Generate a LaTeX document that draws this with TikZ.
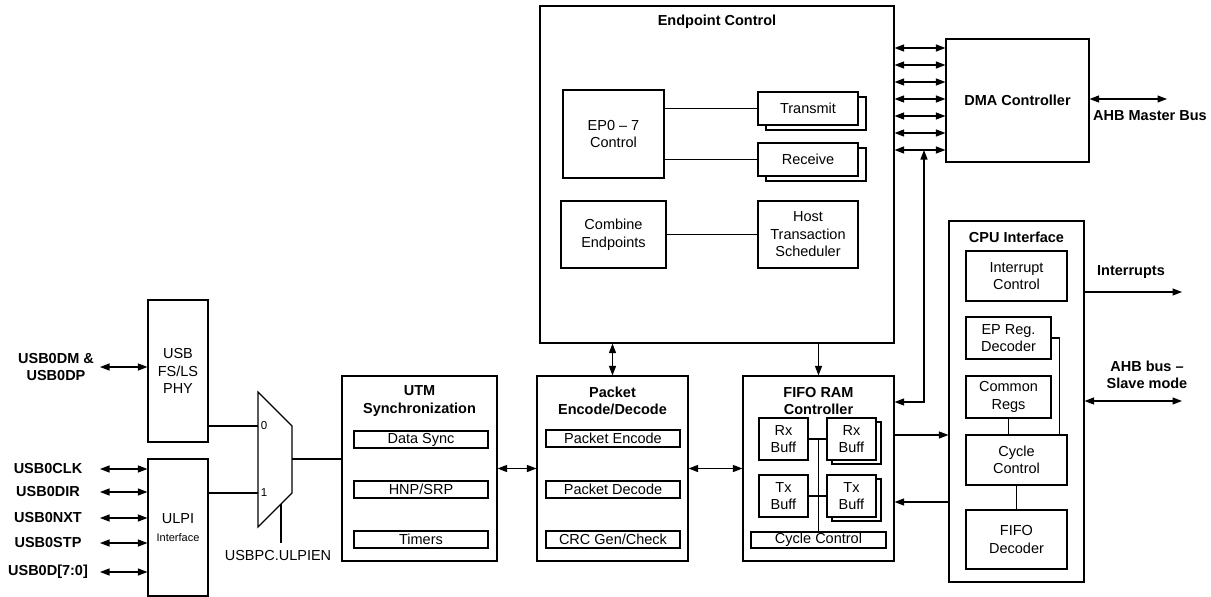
\documentclass[tikz,border=0pt]{standalone}
\usepackage{fontspec}
\setmainfont{Liberation Sans}
\usetikzlibrary{arrows.meta, calc, shadows}

\begin{document}
\begin{tikzpicture}[x=1pt, y=-1pt, line width=1.1pt,
  >={Triangle[length=9.5pt, width=7pt]},
  every node/.style={font=\fontsize{14.5}{17.5}\selectfont},
  blk/.style={draw, inner sep=0pt, align=center},
  stk/.style 2 args={blk, fill=white, copy shadow={shadow xshift=#1, shadow yshift=-#2, draw, fill=white}},
  ttl/.style={font=\fontsize{14.5}{17.5}\selectfont\bfseries, align=center},
  pin/.style={font=\fontsize{14.5}{17}\selectfont\bfseries, align=center},
  tiny/.style={font=\fontsize{11.5}{13}\selectfont}]
  \useasboundingbox (0,0) rectangle (1211,597);

  % Endpoint control
  \node[blk, minimum width=354pt, minimum height=337pt] (epc) at (717,174.5) {};
  \node[ttl] (epct) at (717,22) {Endpoint Control};
  \node[blk, minimum width=101pt, minimum height=88pt] (ep07) at (613.5,134) {EP0 – 7\\Control};
  \node[stk={8pt}{5pt}, minimum width=100pt, minimum height=33pt] (tx) at (808,108.5) {Transmit};
  \node[stk={8pt}{5pt}, minimum width=100pt, minimum height=33pt] (rx) at (808,159.5) {Receive};
  \node[blk, minimum width=105pt, minimum height=67pt] (comb) at (613.5,234.5) {Combine\\Endpoints};
  \node[blk, minimum width=100pt, minimum height=67pt] (hts) at (808,234.5) {Host\\Transaction\\Scheduler};
  \draw (tx.west -| ep07.east) -- (tx.west);
  \draw (rx.west -| ep07.east) -- (rx.west);
  \draw (comb.east) -- (hts.west);

  % DMA controller
  \node[blk, minimum width=143pt, minimum height=123pt] (dma) at (1017.5,100.5) {\bfseries DMA Controller};
  \foreach \i/\y in {0/48, 1/65, 2/82, 3/99, 4/116, 5/133, 6/150} {
    \coordinate (ch\i) at (0,\y);
    \draw[<->] (epc.east |- ch\i) -- (dma.west |- ch\i);
  }
  \coordinate (ahbm) at (1167,99);
  \draw[<->] (dma.east |- ahbm) -- (ahbm);
  \node[pin] (ahbml) at (1150,116) {AHB Master Bus};

  % CPU interface
  \node[blk, minimum width=135pt, minimum height=361pt] (cpu) at (1016.5,401.5) {};
  \node[ttl] (cput) at (1016.5,237) {CPU Interface};
  \node[blk, minimum width=101pt, minimum height=50pt] (intc) at (1016.5,276) {Interrupt\\Control};
  \node[blk, minimum width=85pt, minimum height=42pt] (epreg) at (1008.5,338) {EP Reg.\\Decoder};
  \node[blk, minimum width=85pt, minimum height=42pt] (cregs) at (1008.5,397) {Common\\Regs};
  \node[blk, minimum width=101pt, minimum height=50pt] (cyc) at (1016.5,460) {Cycle\\Control};
  \node[blk, minimum width=101pt, minimum height=59pt] (fifod) at (1016.5,539.5) {FIFO\\Decoder};
  \draw (epreg.east) -| ([xshift=-8pt]cyc.north east);
  \draw (cregs.south) -- (cregs.south |- cyc.north);
  \draw (cyc.south) -- (fifod.north);
  \coordinate (irq) at (1182,292);
  \draw[->] (cpu.east |- irq) -- (irq);
  \node[pin] (irql) at (1131,272) {Interrupts};
  \coordinate (ahbs) at (1182,401);
  \draw[<->] (cpu.east |- ahbs) -- (ahbs);
  \node[pin] (ahbsl) at (1147,375) {AHB bus –\\Slave mode};

  % FIFO RAM controller
  \node[blk, minimum width=151pt, minimum height=185pt] (fifo) at (818.5,468.5) {};
  \node[ttl] (fifot) at (818.5,401) {FIFO RAM\\Controller};
  \node[blk, minimum width=49pt, minimum height=42pt] (rxa) at (783.5,439) {Rx\\Buff};
  \node[stk={5pt}{4pt}, minimum width=49pt, minimum height=42pt] (rxb) at (851.5,439) {Rx\\Buff};
  \node[blk, minimum width=49pt, minimum height=42pt] (txa) at (783.5,496) {Tx\\Buff};
  \node[stk={5pt}{4pt}, minimum width=49pt, minimum height=42pt] (txb) at (851.5,496) {Tx\\Buff};
  \node[blk, minimum width=135pt, minimum height=16pt] (fcyc) at (818.5,540) {Cycle Control};
  \draw (rxa.east) -- (rxb.west);
  \draw (txa.east) -- (txb.west);
  \draw (fcyc.north |- rxa.east) -- (fcyc.north);

  % Packet encode/decode
  \node[blk, minimum width=151pt, minimum height=185pt] (pkt) at (612.5,468.5) {};
  \node[ttl] (pktt) at (612.5,401) {Packet\\Encode/Decode};
  \node[blk, minimum width=134pt, minimum height=17pt] (penc) at (613,438.5) {Packet Encode};
  \node[blk, minimum width=134pt, minimum height=17pt] (pdec) at (613,489.5) {Packet Decode};
  \node[blk, minimum width=134pt, minimum height=17pt] (crc) at (613,539.5) {CRC Gen/Check};

  % UTM synchronization
  \node[blk, minimum width=155pt, minimum height=185pt] (utm) at (419.5,468.5) {};
  \node[ttl] (utmt) at (419.5,401) {UTM\\Synchronization};
  \node[blk, minimum width=134pt, minimum height=17pt] (dsync) at (421,439.5) {Data Sync};
  \node[blk, minimum width=134pt, minimum height=17pt] (hnp) at (421,489.5) {HNP/SRP};
  \node[blk, minimum width=134pt, minimum height=17pt] (tmr) at (421,539.5) {Timers};

  % Links between blocks
  \draw[<->] (pkt.north |- epc.south) -- (pkt.north);
  \draw[->] (fifo.north |- epc.south) -- (fifo.north);
  \draw[<->] (utm.east) -- (pkt.west);
  \draw[<->] (pkt.east) -- (fifo.west);
  \coordinate (fifoin) at (0,402);
  \draw[<->] (ch6 -| 924,0) -- (924,402) -- (fifo.east |- fifoin);
  \coordinate (f2c) at (0,435);
  \draw[->] (fifo.east |- f2c) -- (cpu.west |- f2c);
  \coordinate (c2f) at (0,502);
  \draw[->] (cpu.west |- c2f) -- (fifo.east |- c2f);

  % PHY, ULPI and mux
  \node[blk, minimum width=60pt, minimum height=142pt] (phy) at (178,371) {USB\\FS/LS\\PHY};
  \node[blk, minimum width=60pt, minimum height=137pt] (ulpi) at (178,527.5) {ULPI\\{\fontsize{11}{13}\selectfont Interface}};
  \coordinate (mux0) at (258,426);
  \coordinate (mux1) at (258,493);
  \coordinate (muxo) at (292,459);
  \coordinate (muxs) at (281,504);
  \coordinate (muxsel) at (281,543);
  \draw (258,392) -- (292,426) -- (292,493) -- (258,527) -- cycle;
  \node[tiny] (l0) at (264,426) {0};
  \node[tiny] (l1) at (264,493) {1};
  \draw (phy.east |- mux0) -- (mux0);
  \draw (ulpi.east |- mux1) -- (mux1);
  \draw (muxo) -- (utm.west |- muxo);
  \draw (muxs) -- (muxsel);
  \node (ulpien) at (278,556) {USBPC.ULPIEN};

  % External pins
  \node[pin] (dmdp) at (56,367) {USB0DM \&\\USB0DP};
  \coordinate (pdm) at (100,367);
  \draw[<->] (pdm) -- (phy.west |- pdm);
  \foreach \n/\t/\y in {clk/USB0CLK/469, dir/USB0DIR/492, nxt/USB0NXT/518, stp/USB0STP/543, dat/{USB0D[7:0]}/572} {
    \node[pin] (\n) at (48,\y) {\t};
    \coordinate (p\n) at (100,\y);
    \draw[<->] (p\n) -- (ulpi.west |- p\n);
  }
\end{tikzpicture}
\end{document}
